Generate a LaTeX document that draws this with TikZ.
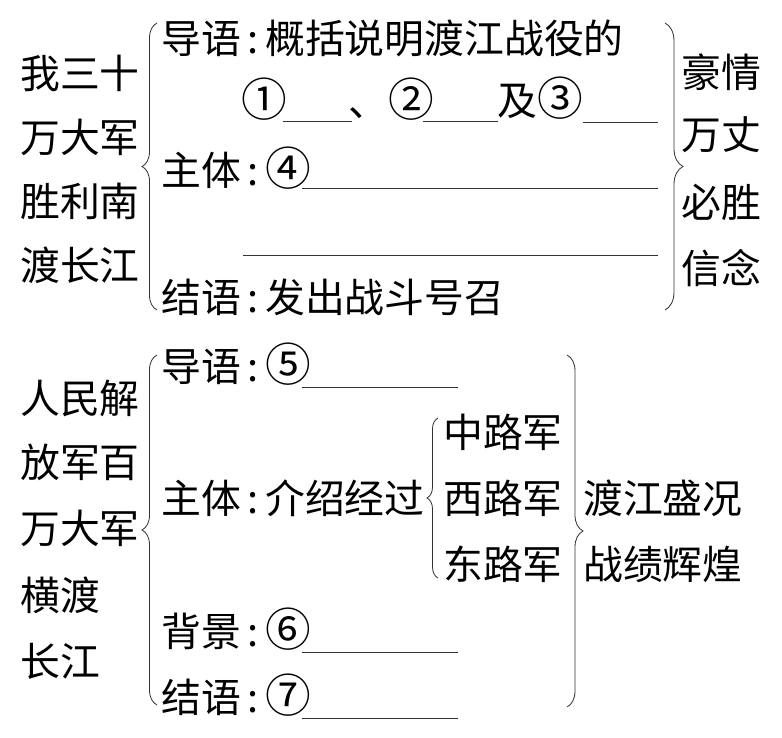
\documentclass[tikz,border=0pt]{standalone}
\usepackage{fontspec}
\newfontfamily\cjk{Noto Sans CJK SC}
\newcommand{\qnum}[1]{{\fontsize{39}{40}\selectfont#1}}
\usetikzlibrary{decorations.pathreplacing}

\begin{document}
\begin{tikzpicture}[
        x=0.03cm, y=-0.03cm,
        every node/.style={
            font=\cjk\fontsize{34}{40}\selectfont,
            anchor=west,
            inner sep=0pt,
            text height=30pt,
            text depth=4pt
        },
        brace/.style={
            decorate,
            decoration={brace, amplitude=#1},
            line width=0.7pt,
            black!80
        },
        blank/.style={
            line width=0.8pt,
            black!80
        }
    ]

    \useasboundingbox (0,0) rectangle (782,738);

    % Upper part: title

    \node (ta) at (20,73) {我三十};
    \node (tb) at (20,137) {万大军};
    \node (tc) at (20,201) {胜利南};
    \node (td) at (20,265) {渡长江};

    % Upper part: lead, body, ending

    \node (tlead) at (161,38) {导语\,:\,概括说明渡江战役的};

    \node (one) at (241,101) {\qnum{①}};
    \node (two) at (348,101) {、\qnum{②}};
    \node (three) at (497,100) {及\qnum{③}};

    \node (tbody) at (161,170) {主体\,:\,\qnum{④}};

    \node (tend) at (161,297) {结语\,:\,发出战斗号召};

    % Upper part: right side

    \node (ra) at (681,72) {豪情};
    \node (rb) at (681,134) {万丈};
    \node (rc) at (681,202) {必胜};
    \node (rd) at (681,268) {信念};

    % Upper part: blanks

    \draw[blank] (283,121) -- (352,121);
    \draw[blank] (423,121) -- (498,121);
    \draw[blank] (583,122) -- (658,122);
    \draw[blank] (302,188) -- (658,188);
    \draw[blank] (243,255) -- (658,255);

    % Upper part: braces

    \draw[brace=0.45cm] (157,310) -- (157,23);
    \draw[brace=0.54cm] (665,23) -- (665,310);

    % Lower part: title

    \node (ba) at (20,398) {人民解};
    \node (bb) at (20,462) {放军百};
    \node (bc) at (20,528) {万大军};
    \node (bd) at (20,595) {横渡};
    \node (be) at (20,661) {长江};

    % Lower part: lead, body, background, ending

    \node (blead) at (161,366) {导语\,:\,\qnum{⑤}};

    \node (bbody) at (161,498) {主体\,:\,介绍经过};

    \node (zhong) at (443,432) {中路军};
    \node (xi) at (443,498) {西路军};
    \node (dong) at (443,564) {东路军};

    \node (bback) at (161,631) {背景\,:\,\qnum{⑥}};
    \node (bend) at (161,697) {结语\,:\,\qnum{⑦}};

    % Lower part: right side

    \node (rx) at (583,498) {渡江盛况};
    \node (ry) at (583,564) {战绩辉煌};

    % Lower part: blanks

    \draw[blank] (302,387) -- (458,387);
    \draw[blank] (302,652) -- (458,652);
    \draw[blank] (302,718) -- (458,718);

    % Lower part: braces

    \draw[brace=0.45cm] (157,705) -- (157,355);
    \draw[brace=0.33cm] (438,578) -- (438,418);
    \draw[brace=0.48cm] (567,355) -- (567,707);

\end{tikzpicture}
\end{document}
